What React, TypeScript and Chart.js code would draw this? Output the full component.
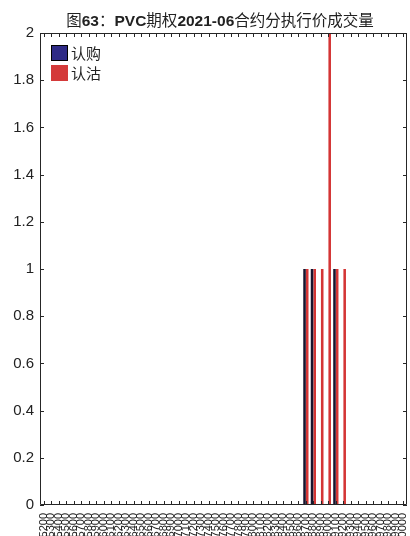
import React, { useEffect, useRef } from "react";
import { Chart, registerables } from "chart.js";

Chart.register(...registerables);

const strikes = [
  "5200", "5300", "5400", "5500", "5600", "5700", "5800", "5900", "6000", "6100",
  "6200", "6300", "6400", "6500", "6600", "6700", "6800", "6900", "7000", "7100",
  "7200", "7300", "7400", "7500", "7600", "7700", "7800", "7900", "8000", "8100",
  "8200", "8300", "8400", "8500", "8600", "8700", "8800", "8900", "9000", "9100",
  "9200", "9300", "9400", "9500", "9600", "9700", "9800", "9900", "10000",
];

const callVolume = [
  0, 0, 0, 0, 0, 0, 0, 0, 0, 0,
  0, 0, 0, 0, 0, 0, 0, 0, 0, 0,
  0, 0, 0, 0, 0, 0, 0, 0, 0, 0,
  0, 0, 0, 0, 0, 1, 1, 0, 0, 1,
  0, 0, 0, 0, 0, 0, 0, 0, 0,
];

const putVolume = [
  0, 0, 0, 0, 0, 0, 0, 0, 0, 0,
  0, 0, 0, 0, 0, 0, 0, 0, 0, 0,
  0, 0, 0, 0, 0, 0, 0, 0, 0, 0,
  0, 0, 0, 0, 0, 1, 1, 1, 2, 1,
  1, 0, 0, 0, 0, 0, 0, 0, 0,
];

const seriesNames = ["认购", "认沽"];
const legendColors = ["#2e2a86", "#d43a3a"];
const barColors = ["#16142e", "#d43535"];

const framePlugin = {
  id: "matlabFrame",
  afterDatasetsDraw(chart: any) {
    const { ctx, chartArea, scales } = chart;
    const { left, right, top, bottom } = chartArea;
    const x = scales.x;
    const y = scales.y;
    ctx.save();
    ctx.strokeStyle = "#262626";
    ctx.lineWidth = 1;
    ctx.beginPath();
    ctx.rect(left + 0.5, top + 0.5, right - left - 1, bottom - top - 1);
    ctx.stroke();
    const tl = 4;
    ctx.beginPath();
    x.ticks.forEach((_: any, i: number) => {
      const px = Math.round(x.getPixelForTick(i)) + 0.5;
      ctx.moveTo(px, bottom);
      ctx.lineTo(px, bottom - tl);
      ctx.moveTo(px, top);
      ctx.lineTo(px, top + tl);
    });
    y.ticks.forEach((_: any, i: number) => {
      const py = Math.round(y.getPixelForTick(i)) + 0.5;
      ctx.moveTo(left, py);
      ctx.lineTo(left + tl, py);
      ctx.moveTo(right, py);
      ctx.lineTo(right - tl, py);
    });
    ctx.stroke();

    // legend
    const bx = left + 11;
    const rows = [top + 12, top + 32];
    ctx.font = '15px "Noto Sans CJK SC"';
    ctx.textBaseline = "middle";
    ctx.textAlign = "left";
    chart.data.datasets.forEach((ds: any, i: number) => {
      const by = rows[i];
      ctx.fillStyle = legendColors[i];
      ctx.fillRect(bx, by, 17, 16);
      ctx.strokeStyle = i === 0 ? "#000" : "#d43a3a";
      ctx.strokeRect(bx + 0.5, by + 0.5, 16, 15);
      ctx.fillStyle = "#222";
      ctx.fillText(ds.label, bx + 20, by + 8);
    });
    ctx.restore();
  },
};

export default function App() {
  const ref = useRef<HTMLCanvasElement | null>(null);
  useEffect(() => {
    document.body.style.margin = "0";
    document.documentElement.style.overflow = "hidden";
    const canvas = ref.current;
    if (!canvas) return;
    const chart = new Chart(canvas, {
      type: "bar",
      data: {
        labels: strikes,
        datasets: [
          {
            label: seriesNames[0],
            data: callVolume,
            backgroundColor: barColors[0],
            categoryPercentage: 0.72,
            barPercentage: 0.95,
          },
          {
            label: seriesNames[1],
            data: putVolume,
            backgroundColor: barColors[1],
            categoryPercentage: 0.72,
            barPercentage: 0.95,
          },
        ],
      },
      options: {
        animation: false,
        responsive: false,
        maintainAspectRatio: false,
        layout: { padding: { top: 33, right: 3, left: 0, bottom: 0 } },
        plugins: {
          legend: { display: false },
          title: { display: false },
          tooltip: { enabled: false },
        },
        scales: {
          x: {
            grid: { display: false, drawTicks: false },
            border: { display: false },
            ticks: {
              autoSkip: false,
              maxRotation: 90,
              minRotation: 90,
              padding: 8,
              color: "#222",
              font: { family: '"Liberation Sans", Arial, sans-serif', size: 11 },
            },
            afterFit: (s: any) => {
              s.height = 31;
              s.paddingLeft = 0;
              s.paddingRight = 0;
            },
          },
          y: {
            min: 0,
            max: 2,
            grid: { display: false, drawTicks: false },
            border: { display: false },
            ticks: {
              stepSize: 0.2,
              padding: 6,
              color: "#222",
              font: { family: '"Liberation Sans", Arial, sans-serif', size: 15 },
              callback: (v: any) => String(Number(Number(v).toFixed(1))),
            },
            afterFit: (s: any) => {
              s.width = 40;
              s.paddingTop = 0;
              s.paddingBottom = 0;
            },
          },
        },
      },
      plugins: [framePlugin],
    });
    return () => chart.destroy();
  }, []);

  return (
    <div style={{ position: "relative", width: 410, height: 536, overflow: "hidden", background: "#fff" }}>
      <div
        style={{
          position: "absolute",
          top: 10,
          left: 30,
          width: 380,
          textAlign: "center",
          fontFamily: '"Liberation Sans", "Noto Sans CJK SC", sans-serif',
          fontSize: 15.5,
          lineHeight: "18px",
          color: "#222",
          whiteSpace: "nowrap",
        }}
      >
        <span style={{ fontFamily: '"Noto Sans CJK SC"' }}>图</span>
        <b>63</b>
        <span style={{ fontFamily: '"Noto Sans CJK SC"' }}>：</span>
        <b>PVC</b>
        <span style={{ fontFamily: '"Noto Sans CJK SC"' }}>期权</span>
        <b>2021-06</b>
        <span style={{ fontFamily: '"Noto Sans CJK SC"' }}>合约分执行价成交量</span>
      </div>
      <canvas ref={ref} width={410} height={536} style={{ display: "block" }} />
    </div>
  );
}
